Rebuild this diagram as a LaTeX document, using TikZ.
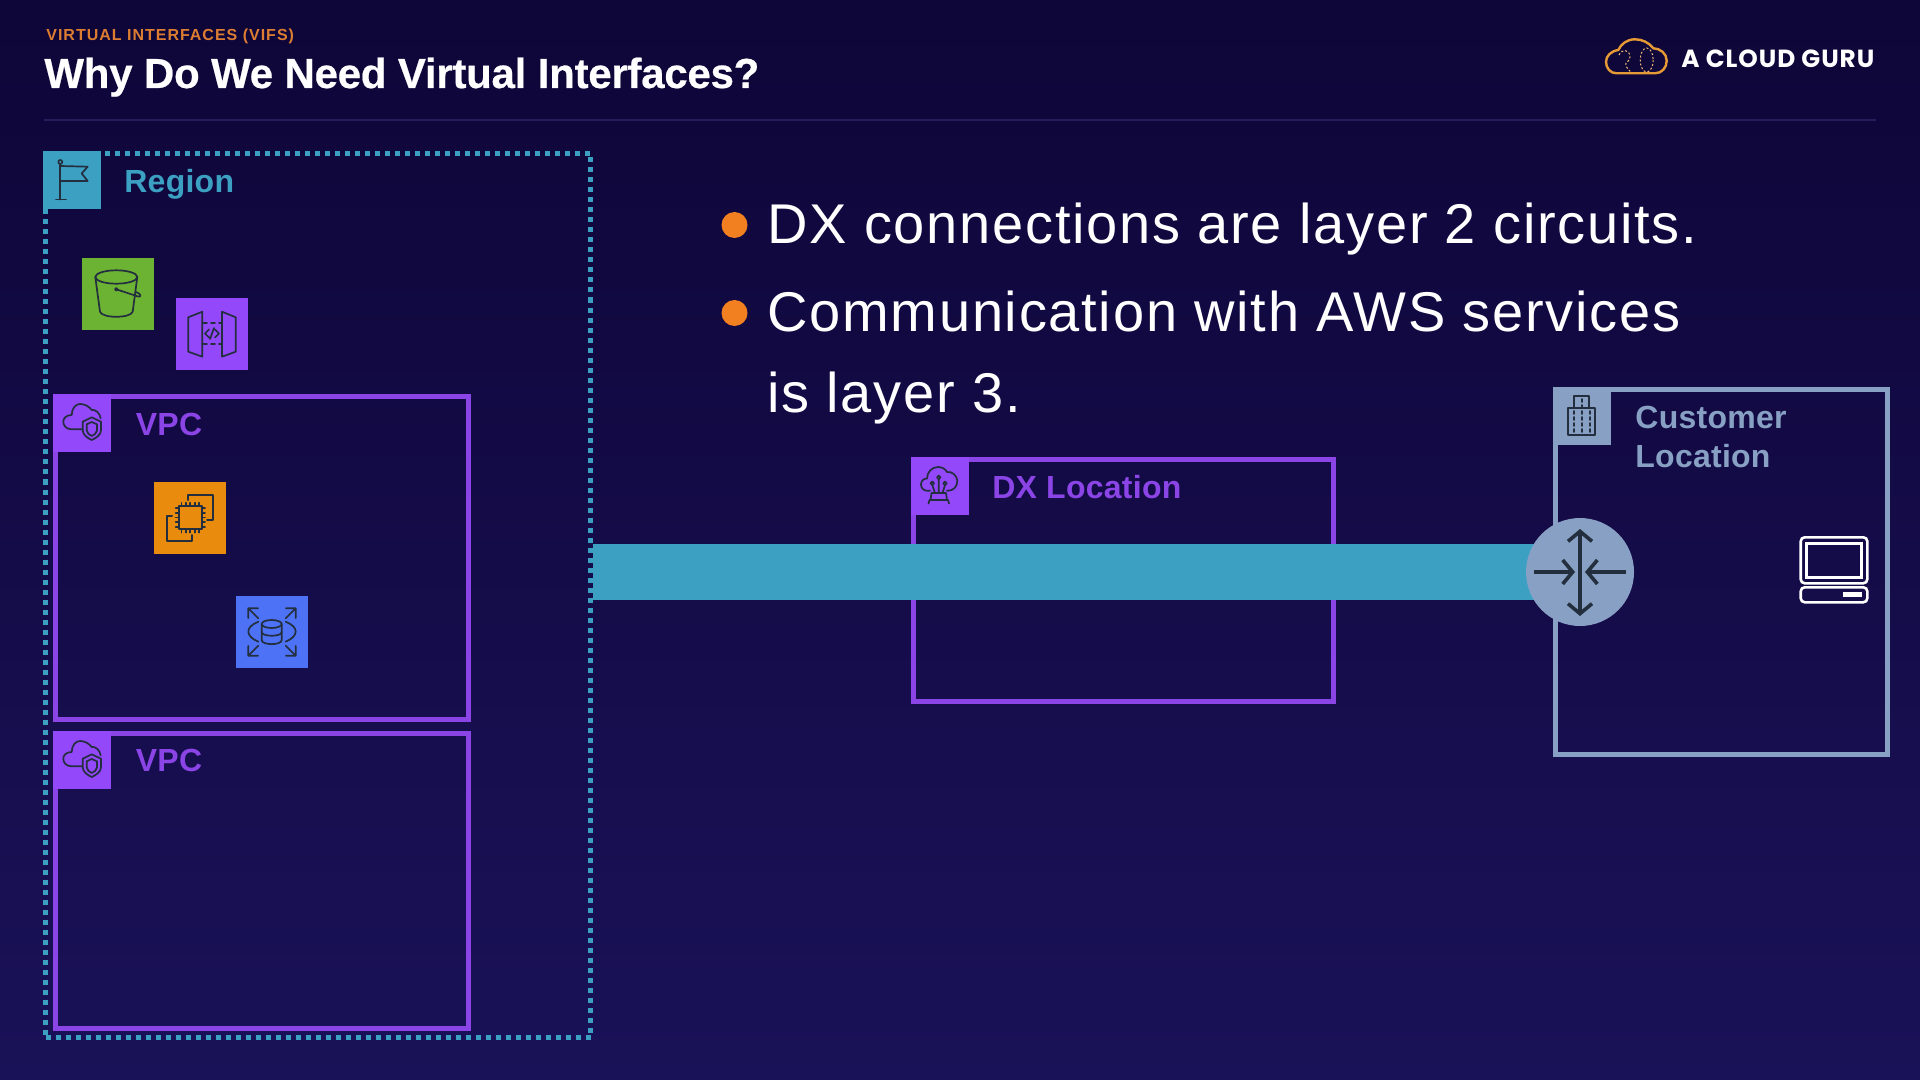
\documentclass[tikz,border=0pt]{standalone}
\usepackage{fontspec}
\usepackage{tikz}
\usetikzlibrary{arrows.meta}
\setmainfont{Liberation Sans}
\newfontfamily\titlefont[LetterSpace=-0.6,BoldFeatures={FakeBold=0.5}]{Liberation Sans}
\newfontfamily\bodyfont[LetterSpace=3.1]{Liberation Sans}
\newfontfamily\smallfont[LetterSpace=6.2]{Liberation Sans}
\newfontfamily\labelfont[LetterSpace=0.8]{Liberation Sans}
\newfontfamily\logofont[LetterSpace=3.7]{Poppins}

\definecolor{bgtop}{HTML}{0E0538}
\definecolor{bgbot}{HTML}{1A1258}
\definecolor{rulecol}{HTML}{241C5C}
\definecolor{teal}{HTML}{3CA0C3}
\definecolor{grape}{HTML}{8B44E6}
\definecolor{grapetile}{HTML}{9348FA}
\definecolor{slate}{HTML}{87A0C3}
\definecolor{amber}{HTML}{E98B0C}
\definecolor{leaf}{HTML}{6CB233}
\definecolor{cobalt}{HTML}{4D72F5}
\definecolor{dot}{HTML}{F28020}
\definecolor{kickercol}{HTML}{DC7D32}
\definecolor{ink}{HTML}{232F3E}
\definecolor{logo}{HTML}{E69A35}

\tikzset{
  box/.style={draw,line width=2.5pt,minimum width=#1,anchor=north west,outer sep=0pt,inner sep=0pt},
  tile/.style={fill=#1,minimum size=36pt,anchor=north west,outer sep=0pt,inner sep=0pt},
  cornertile/.style={fill=#1,minimum size=29pt,anchor=north west,outer sep=0pt,inner sep=0pt},
  boxlabel/.style={anchor=base west,inner sep=0pt,font=\labelfont\bfseries\fontsize{16}{19}\selectfont,text=#1},
  bullettext/.style={anchor=base west,inner sep=0pt,text=white,font=\bodyfont\fontsize{28}{33}\selectfont},
  bulletdot/.style={circle,fill=dot,minimum size=13pt,inner sep=0pt},
  icon/.style={draw=ink,line width=0.85pt,line join=round,line cap=round},
  routerarrow/.style={draw=ink,line width=1.8pt},
  vpcicon/.pic={
    \draw[icon] (28.7,35.3) -- (18.7,35.3) .. controls (13,35.3) and (10.3,31.5) .. (10.3,27.7)
      .. controls (10.3,24) and (13.5,21) .. (18.7,21) .. controls (18.7,14) and (23,10) .. (27,10)
      .. controls (32,10) and (36,12.5) .. (38.7,16) .. controls (42,15) and (47,19) .. (47.7,24.3);
    \draw[icon] (38.7,23.3) -- (48,27.7) -- (48,36) .. controls (48,41) and (43,44) .. (38.7,46)
      .. controls (34.5,44) and (29.7,41) .. (29.7,36) -- (29.7,27.7) -- cycle;
    \draw[icon] (38.7,28) -- (44,30.3) -- (44,36.5) .. controls (44,39) and (41,41) .. (38.7,42)
      .. controls (36.5,41) and (33.7,39) .. (33.7,36.5) -- (33.7,30.3) -- cycle;
  }
}

\begin{document}
\begin{tikzpicture}[x=0.5pt,y=-0.5pt]
\useasboundingbox (0,0) rectangle (1920,1080);
\shade[top color=bgtop,bottom color=bgbot] (0,0) rectangle (1920,1080);

% header
\node[anchor=base west,inner sep=0pt,text=kickercol,font=\smallfont\bfseries\fontsize{8}{10}\selectfont] (kicker) at (46,41) {VIRTUAL INTERFACES (VIFS)};
\node[anchor=base west,inner sep=0pt,text=white,font=\titlefont\bfseries\fontsize{21}{24}\selectfont] (title) at (44,88) {Why Do We Need Virtual Interfaces?};
\draw[line width=1pt,color=rulecol] (44,120) -- (1876,120);
\node[anchor=base west,inner sep=0pt,text=white,font=\logofont\bfseries\fontsize{12.4}{14}\selectfont] (logotext) at (1681,68) {A CLOUD GURU};
\draw[logo,line width=1.2pt,line join=round] (1616.7,73.3) -- (1655,73.3) .. controls (1662,73.3) and (1666.7,67.5) .. (1666.7,60.7)
  .. controls (1666.7,53.5) and (1660,48.3) .. (1653.3,48.3) .. controls (1649,42.5) and (1642,39.3) .. (1635,39.3)
  .. controls (1627,39.3) and (1621,44) .. (1618.3,50) .. controls (1611,51) and (1606,56) .. (1606,61.7)
  .. controls (1606,68) and (1610,73.3) .. (1616.7,73.3) -- cycle;
\draw[logo!70,line width=0.5pt,dash pattern=on 1pt off 1pt] (1646.7,60) ellipse[x radius=6.5,y radius=12];
\draw[logo!70,line width=0.5pt,dash pattern=on 1pt off 1pt] (1619,55) .. controls (1622,48) and (1630,50) .. (1630,57)
  .. controls (1630,62) and (1624,62) .. (1626,66) .. controls (1628,70) and (1630,71) .. (1632,73);

% bullets
\node[bulletdot] (dotA) at (734.5,225) {};
\node[bulletdot] (dotB) at (734.5,313) {};
\node[bullettext] (lineA) at (767,244) {DX connections are layer 2 circuits.};
\node[bullettext] (lineB) at (767,332) {Communication with AWS services};
\node[bullettext] (lineC) at (767,412) {is layer 3.};

% region
\node[box=272.5pt,minimum height=442pt,draw=teal,dash pattern=on 2.5pt off 2.5pt] (regionbox) at (45.5,153.5) {};
\node[cornertile=teal] (regiontile) at (43,151) {};
\node[boxlabel=teal] (regionlabel) at (124,193) {Region};
\draw[icon] (60.3,164) -- (60.3,199.5) (56,199.5) -- (66,199.5);
\draw[icon] (60.3,162) circle[radius=2];
\draw[icon] (60.3,166) -- (87.7,166.7) -- (81.7,173.5) -- (87.7,181) -- (60.3,181);

\node[tile=leaf] (s3tile) at (82,258) {};
\draw[icon] (116.3,277) ellipse[x radius=21,y radius=6.7];
\draw[icon] (95.3,277) -- (100,311.7) .. controls (102,318.5) and (130.5,318.5) .. (132.7,311.7) -- (137.3,277);
\fill[ink] (116.3,289.3) circle[radius=2];
\draw[icon] (116.3,289.3) -- (138,296.5) .. controls (142,297.5) and (141,293.5) .. (136,292);

\node[tile=grapetile] (apitile) at (176,298) {};
\draw[icon] (188.3,317.3) -- (202.3,311.7) -- (202.3,356.7) -- (188.3,351.7) -- cycle;
\draw[icon] (235.7,317.3) -- (222,311.7) -- (222,356.7) -- (235.7,351.7) -- cycle;
\draw[icon,dash pattern=on 2pt off 2pt] (203,322.7) -- (222,322.7) (203,344.3) -- (222,344.3);
\draw[icon] (209,329.5) -- (205,333.5) -- (209,337.5) (215,329.5) -- (219,333.5) -- (215,337.5) (214,328) -- (210,339);

% vpc boxes
\node[box=206.5pt,minimum height=161.5pt,draw=grape] (vpcboxA) at (55.5,396.5) {};
\node[cornertile=grapetile] (vpctileA) at (53,394) {};
\pic at (53,394) {vpcicon};
\node[boxlabel=grape] (vpclabelA) at (135.5,435) {VPC};

\node[tile=amber] (ec2tile) at (154,482) {};
\draw[icon,line width=1pt] (179,506) rectangle (201.7,529.3);
\foreach \t in {0,1,2,3,4} {
  \draw[icon] ({181.5+\t*4.4},506) -- ({181.5+\t*4.4},502.7) ({181.5+\t*4.4},529.3) -- ({181.5+\t*4.4},532.6);
  \draw[icon] (179,{508+\t*4.7}) -- (175.7,{508+\t*4.7}) (201.7,{508+\t*4.7}) -- (205,{508+\t*4.7});
}
\draw[icon,line width=1pt] (187.7,500) -- (187.7,495) -- (213.3,495) -- (213.3,520) -- (207,520);
\draw[icon,line width=1pt] (172,516) -- (166.7,516) -- (166.7,541.3) -- (192.3,541.3) -- (192.3,535);

\node[tile=cobalt] (rdstile) at (236,596) {};
\draw[icon] (271.7,624) ellipse[x radius=10,y radius=4];
\draw[icon] (261.7,624) -- (261.7,640) .. controls (261.7,645.5) and (281.7,645.5) .. (281.7,640) -- (281.7,624);
\draw[icon] (261.7,632) .. controls (261.7,637) and (281.7,637) .. (281.7,632);
\draw[icon] (258.3,621.7) .. controls (245,627) and (245,636) .. (258.3,641.7);
\draw[icon] (285.7,621.7) .. controls (299,627) and (299,636) .. (285.7,641.7);
\foreach \sx/\sy in {-1/-1,1/-1,-1/1,1/1} {
  \draw[icon] ({272+\sx*13.7},{632+\sy*13.7}) -- ({272+\sx*23.7},{632+\sy*23.7})
    ({272+\sx*23.7},{632+\sy*14}) -- ({272+\sx*23.7},{632+\sy*23.7}) -- ({272+\sx*14},{632+\sy*23.7});
}

\node[box=206.5pt,minimum height=147.5pt,draw=grape] (vpcboxB) at (55.5,733.5) {};
\node[cornertile=grapetile] (vpctileB) at (53,731) {};
\pic at (53,731) {vpcicon};
\node[boxlabel=grape] (vpclabelB) at (135.5,771.5) {VPC};

% dx location
\node[box=210pt,minimum height=121pt,draw=grape] (dxbox) at (913.5,459.5) {};
\node[cornertile=grapetile] (dxtile) at (911,457) {};
\node[boxlabel=grape] (dxlabel) at (992,498) {DX Location};
\draw[icon] (930,490.7) -- (927,490.7) .. controls (923.5,490.7) and (921,488) .. (921,484.5)
  .. controls (921,481) and (923.5,478.5) .. (927,478.5) .. controls (927,472) and (932,467) .. (938,467)
  .. controls (942,467) and (945.5,469) .. (947,472) .. controls (952,471) and (957.3,476) .. (957.3,481)
  .. controls (957.3,487) and (953,490.7) .. (948,490.7) -- (947,490.7);
\draw[icon] (932.3,483.3) circle[radius=1.8] (938.7,477.3) circle[radius=1.8] (945,483.3) circle[radius=1.8];
\draw[icon] (932.3,485) -- (935,493) (938.7,479) -- (938.7,493) (945,485) -- (942.5,493);
\draw[icon] (931.5,493) -- (946,493) -- (947,500) -- (930.5,500) -- cycle;
\draw[icon] (928.5,503.5) -- (929.5,500) -- (948,500) -- (949,503.5);

% customer location
\node[box=166pt,minimum height=182.5pt,draw=slate] (custbox) at (1555.5,389.5) {};
\node[cornertile=slate] (custtile) at (1553,387) {};
\node[boxlabel=slate] (custlabelA) at (1635,428) {Customer};
\node[boxlabel=slate] (custlabelB) at (1635,467) {Location};
\draw[icon] (1568.3,408.3) rectangle (1595,435);
\draw[icon] (1574,408.3) -- (1574,396) -- (1589.3,396) -- (1589.3,408.3);
\draw[icon,dash pattern=on 1.5pt off 1.5pt] (1574,411) -- (1574,432) (1581.7,399) -- (1581.7,432) (1590,411) -- (1590,432);

% laptop
\draw[white,line width=1.3pt,rounded corners=2pt] (1800.7,537.3) rectangle (1867.3,583.3);
\draw[white,line width=1.3pt] (1806.7,543.3) rectangle (1861.7,577.3);
\draw[white,line width=1.3pt,rounded corners=2pt] (1800.7,587.3) rectangle (1867.3,602.3);
\fill[white] (1843.3,592.3) rectangle (1862.3,597.3);

% dx link and router
\coordinate (routerpos) at (1580,572);
\draw[teal,line width=28pt] ([xshift=1pt]regionbox.east |- routerpos) -- (routerpos);
\node[circle,fill=slate,minimum size=54pt,inner sep=0pt] (router) at (routerpos) {};
\draw[routerarrow,{Straight Barb[length=5pt,width=12pt]}-{Straight Barb[length=5pt,width=12pt]}] (1580,529) -- (1580,616);
\draw[routerarrow,-{Straight Barb[length=5pt,width=12pt]}] (1534,572) -- (1575,572);
\draw[routerarrow,-{Straight Barb[length=5pt,width=12pt]}] (1626,572) -- (1585,572);
\end{tikzpicture}
\end{document}
